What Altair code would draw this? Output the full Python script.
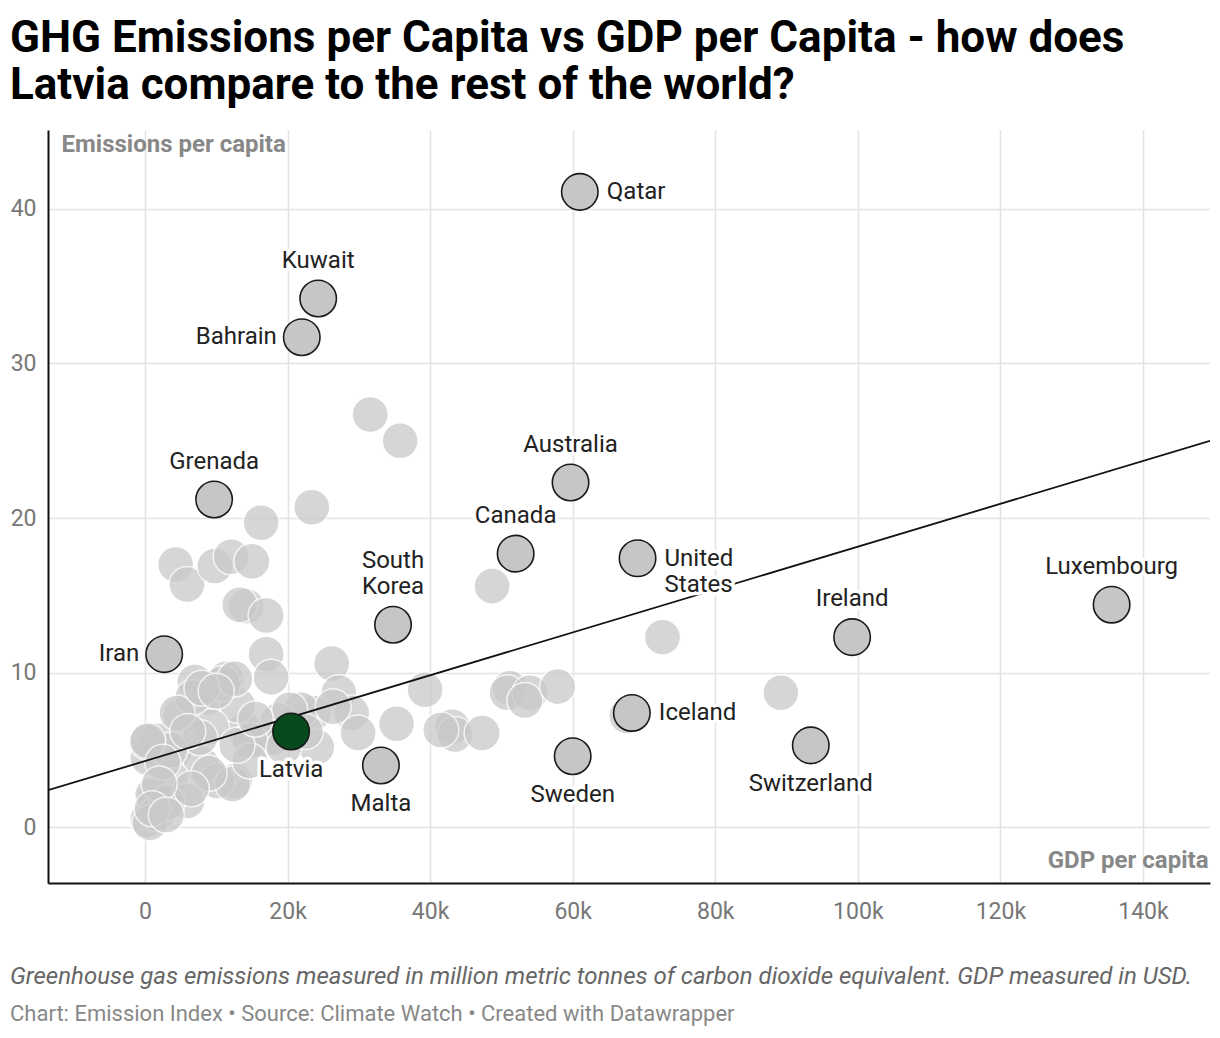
import altair as alt
import pandas as pd

# Highlighted countries
hl_country = ["Qatar", "Kuwait", "Bahrain", "Grenada", "Australia", "Canada",
              "United States", "South Korea", "Iran", "Luxembourg", "Ireland",
              "Iceland", "Switzerland", "Sweden", "Malta", "Latvia"]
hl_label = ["Qatar", "Kuwait", "Bahrain", "Grenada", "Australia", "Canada",
            "United\nStates", "South\nKorea", "Iran", "Luxembourg", "Ireland",
            "Iceland", "Switzerland", "Sweden", "Malta", "Latvia"]
hl_gdp = [61000, 24300, 22000, 9700, 59700, 52000, 69100, 34800, 2700, 135600,
          99200, 68300, 93400, 60000, 33100, 20500]
hl_em = [41.1, 34.2, 31.7, 21.2, 22.3, 17.7, 17.4, 13.1, 11.2, 14.4, 12.3,
         7.4, 5.3, 4.6, 4.0, 6.2]
hl_pos = ["right", "above", "left", "above", "above", "above", "right2",
          "above2", "left", "above", "above", "right", "below", "below",
          "below", "below"]

# Other countries
bg_gdp = [31600, 35800, 23400, 16300, 4300, 5900, 9800, 12100, 15000, 14200,
          13300, 17000, 17000, 17700, 26200, 27200, 29000, 29900, 35300, 39300,
          43100, 43500, 47300, 48700, 51200, 50800, 54000, 53300, 57900, 72600,
          67600, 89200, 23600, 24100, 21900, 18700, 14000, 16300, 18000, 12600,
          7000, 8800, 11400, 13000, 5000, 9300, 1800, 4200, 400, 7900,
          3600, 1400, 400, 10900, 6700, 7700, 3500, 300, 10100, 12300,
          1100, 1700, 700, 5900, 3100, 14700, 20300, 26400, 41500, 400,
          12600, 4500, 14700, 12900, 8000, 10000, 6000, 2500, 9000, 6500,
          2000, 1000, 3000, 15500, 19500, 22500]
bg_em = [26.7, 25.0, 20.7, 19.7, 17.0, 15.7, 16.9, 17.5, 17.2, 14.3,
         14.4, 13.7, 11.2, 9.7, 10.6, 8.7, 7.4, 6.1, 6.7, 8.9,
         6.5, 6.0, 6.1, 15.6, 9.0, 8.7, 8.7, 8.2, 9.1, 12.3,
         7.2, 8.7, 7.4, 5.2, 7.6, 6.9, 6.3, 5.6, 5.8, 3.0,
         9.4, 8.4, 9.6, 7.9, 7.2, 6.5, 5.6, 5.0, 4.5, 4.1,
         3.2, 1.9, 0.5, 9.3, 8.4, 5.8, 5.0, 5.5, 3.0, 2.8,
         2.1, 0.9, 0.3, 1.7, 1.6, 5.6, 7.6, 7.8, 6.3, 5.6,
         9.6, 7.4, 4.3, 5.3, 9.0, 8.8, 6.2, 4.2, 3.5, 2.5,
         2.8, 1.2, 0.8, 7.0, 5.2, 6.2]

# Trend line endpoints (at the plot edges)
trend_gdp = [-13600, 149400]
trend_em = [2.4, 25.0]

x_ticks = [0, 20000, 40000, 60000, 80000, 100000, 120000, 140000]
y_ticks = [0, 10, 20, 30, 40]

title_lines = ["GHG Emissions per Capita vs GDP per Capita - how does",
               "Latvia compare to the rest of the world?"]
note = "Greenhouse gas emissions measured in million metric tonnes of carbon dioxide equivalent. GDP measured in USD."
source = "Chart: Emission Index \u2022 Source: Climate Watch \u2022 Created with Datawrapper"

FONT = "Roboto"
W, H = 1162, 753

hl = pd.DataFrame({"country": hl_country, "label": hl_label, "gdp": hl_gdp,
                   "em": hl_em, "pos": hl_pos})
hl["color"] = ["#064a1d" if c == "Latvia" else "#c6c6c6" for c in hl_country]
bg = pd.DataFrame({"gdp": bg_gdp, "em": bg_em})
tr = pd.DataFrame({"gdp": trend_gdp, "em": trend_em})

xs = alt.Scale(domain=[-13600, 149400], nice=False, zero=False)
ys = alt.Scale(domain=[-3.6, 45.1], nice=False, zero=False)

xax = alt.Axis(values=x_ticks, labelExpr="datum.value == 0 ? '0' : (datum.value/1000) + 'k'",
               title="GDP per capita", titleX=W - 2, titleY=-23, titleAlign="right",
               titleBaseline="middle")
yax = alt.Axis(values=y_ticks, title="Emissions per capita", titleAngle=0,
               titleX=13, titleY=14, titleAlign="left", titleBaseline="middle")

X = alt.X("gdp:Q", scale=xs, axis=xax)
Y = alt.Y("em:Q", scale=ys, axis=yax)

bg_layer = alt.Chart(bg).mark_circle(size=1300, color="#c9c9c9", opacity=0.75,
                                     stroke="#ffffff", strokeWidth=1.5).encode(x=X, y=Y)

trend_layer = alt.Chart(tr).mark_line(color="#111111", strokeWidth=1.8, clip=True).encode(
    x=alt.X("gdp:Q", scale=xs), y=alt.Y("em:Q", scale=ys))

hl_layer = alt.Chart(hl).mark_circle(size=1330, opacity=1, stroke="#1a1a1a",
                                     strokeWidth=1.6).encode(
    x=alt.X("gdp:Q", scale=xs), y=alt.Y("em:Q", scale=ys),
    color=alt.Color("color:N", scale=None))

def labels(pos, **kw):
    base = alt.Chart(hl).transform_filter(alt.datum.pos == pos)
    enc = dict(x=alt.X("gdp:Q", scale=xs), y=alt.Y("em:Q", scale=ys), text="label:N")
    common = dict(font=FONT, fontSize=24, lineBreak="\n", lineHeight=26, **kw)
    halo = base.mark_text(color="#ffffff", stroke="#ffffff", strokeWidth=7,
                          strokeJoin="round", **common).encode(**enc)
    txt = base.mark_text(color="#222222", **common).encode(**enc)
    return [halo, txt]

label_layers = (labels("right", align="left", baseline="middle", dx=27)
                + labels("right2", align="left", baseline="top", dx=27, dy=-11)
                + labels("left", align="right", baseline="middle", dx=-25)
                + labels("above", align="center", baseline="bottom", dy=-26)
                + labels("above2", align="center", baseline="bottom", dy=-52)
                + labels("below", align="center", baseline="alphabetic", dy=46))

note_layer = alt.Chart(pd.DataFrame({"t": [note]})).mark_text(
    font=FONT, fontSize=24, fontStyle="italic", color="#666666", align="left",
    baseline="middle").encode(text="t:N", x=alt.value(-38), y=alt.value(847))
source_layer = alt.Chart(pd.DataFrame({"t": [source]})).mark_text(
    font=FONT, fontSize=22, color="#888888", align="left",
    baseline="middle").encode(text="t:N", x=alt.value(-38), y=alt.value(884))

chart = alt.layer(bg_layer, trend_layer, hl_layer, *label_layers,
                  note_layer, source_layer).properties(
    width=W, height=H,
    autosize=alt.AutoSizeParams(type="none"),
    padding={"left": 40, "top": 122, "right": 2, "bottom": 143},
    title=alt.TitleParams(text=title_lines, anchor="start", font=FONT, fontSize=44,
                          fontWeight="bold", color="#000000", lineHeight=47,
                          dx=-38, dy=43, offset=30, baseline="alphabetic", frame="group"),
).configure_view(stroke=None).configure_axis(
    labelFont=FONT, labelFontSize=23, labelColor="#777777", titleFont=FONT,
    titleFontSize=24, titleFontWeight="bold", titleColor="#888888",
    gridColor="#e3e3e3", gridWidth=1.6, domainColor="#111111", domainWidth=2,
    ticks=False, labelPadding=12
).configure_axisX(labelPadding=17, domainWidth=2.2)

chart.save("out.html", embed_options={"renderer": "svg", "actions": False})
